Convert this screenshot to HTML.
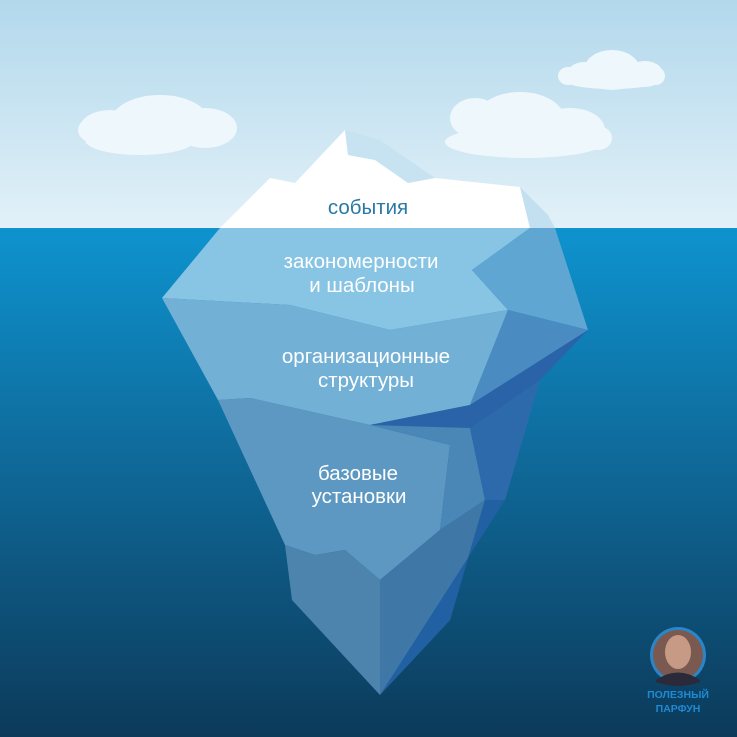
<!DOCTYPE html>
<html><head><meta charset="utf-8"><style>
html,body{margin:0;padding:0;width:737px;height:737px;overflow:hidden}
svg{display:block}
text{font-family:"Liberation Sans",sans-serif}
</style></head><body>
<svg width="737" height="737" viewBox="0 0 737 737">
<defs>
<linearGradient id="sky" x1="0" y1="0" x2="0" y2="1"><stop offset="0" stop-color="#b2d8ec"/><stop offset="1" stop-color="#e2f1f8"/></linearGradient>
<linearGradient id="sea" x1="0" y1="0" x2="0" y2="1"><stop offset="0" stop-color="#0e93cf"/><stop offset="0.45" stop-color="#0f6a9a"/><stop offset="1" stop-color="#0c3a5a"/></linearGradient>
</defs>
<rect x="0" y="0" width="737" height="229" fill="url(#sky)"/>
<rect x="0" y="228" width="737" height="509" fill="url(#sea)"/>
<g fill="#eef7fc">
<ellipse cx="160" cy="123" rx="50" ry="28"/><ellipse cx="110" cy="128" rx="30" ry="18"/><ellipse cx="205" cy="128" rx="32" ry="20"/><ellipse cx="140" cy="140" rx="55" ry="15"/><ellipse cx="92" cy="130" rx="14" ry="12"/>
<ellipse cx="520" cy="120" rx="45" ry="28"/><ellipse cx="475" cy="118" rx="25" ry="20"/><ellipse cx="570" cy="130" rx="35" ry="22"/><ellipse cx="525" cy="142" rx="80" ry="16"/><ellipse cx="598" cy="138" rx="14" ry="12"/>
<ellipse cx="612" cy="70" rx="28" ry="20"/><ellipse cx="585" cy="74" rx="18" ry="12"/><ellipse cx="645" cy="74" rx="18" ry="13"/><ellipse cx="612" cy="80" rx="48" ry="9"/><ellipse cx="568" cy="76" rx="10" ry="9"/><ellipse cx="656" cy="76" rx="9" ry="9"/>
</g>
<polygon points="220,228 270,178 295,183 345,130 348,155 375,160 408,183 435,178 520,187 530,228" fill="#ffffff"/>
<polygon points="345,130 380,140 435,178 408,183 375,160 348,155" fill="#c7e3f2"/>
<polygon points="520,187 548,215 555,228 530,228" fill="#c3e0f0"/>
<polygon points="220,228 530,228 472,270 508,310 390,330 290,305 162,298" fill="#88c4e4"/>
<polygon points="530,228 555,228 588,330 508,310 472,270" fill="#5fa6d3"/>
<polygon points="162,298 290,305 390,330 508,310 470,405 370,425 250,398 218,400" fill="#72b0d6"/>
<polygon points="508,310 588,330 470,405" fill="#4a8cc2"/>
<polygon points="588,330 540,380 470,428 370,425 470,405" fill="#2a63a8"/>
<polygon points="218,400 250,398 370,425 450,445 440,530 380,580 345,550 315,555 285,545" fill="#5d98c2"/>
<polygon points="370,425 470,428 485,500 440,530 450,445" fill="#4a86b6"/>
<polygon points="470,428 540,380 505,500 485,500" fill="#2d6aab"/>
<polygon points="285,545 315,555 345,550 380,580 380,695 292,600" fill="#4d84ae"/>
<polygon points="380,580 440,530 485,500 450,620 380,695" fill="#3f77a6"/>
<polygon points="485,500 505,500 380,695 450,620" fill="#2160a2"/>
<g font-size="20.5" text-anchor="middle" fill="#ffffff">
<text x="368" y="214" fill="#2a78a5">события</text>
<text x="361" y="268">закономерности</text>
<text x="362" y="292">и шаблоны</text>
<text x="366" y="363">организационные</text>
<text x="366" y="387">структуры</text>
<text x="358" y="480">базовые</text>
<text x="359" y="503">установки</text>
</g>
<circle cx="678" cy="655" r="28" fill="#2a86c8"/>
<circle cx="678" cy="655" r="25" fill="#7a5a50"/>
<ellipse cx="678" cy="652" rx="13" ry="17" fill="#c79a86"/>
<path d="M656,680 Q678,665 700,680 L700,682 Q678,690 656,682Z" fill="#2a2a3a"/>
<g font-size="10.5" font-weight="bold" text-anchor="middle" fill="#1f8ad2">
<text x="678" y="698">ПОЛЕЗНЫЙ</text>
<text x="678" y="712">ПАРФУН</text>
</g>
</svg>
</body></html>
